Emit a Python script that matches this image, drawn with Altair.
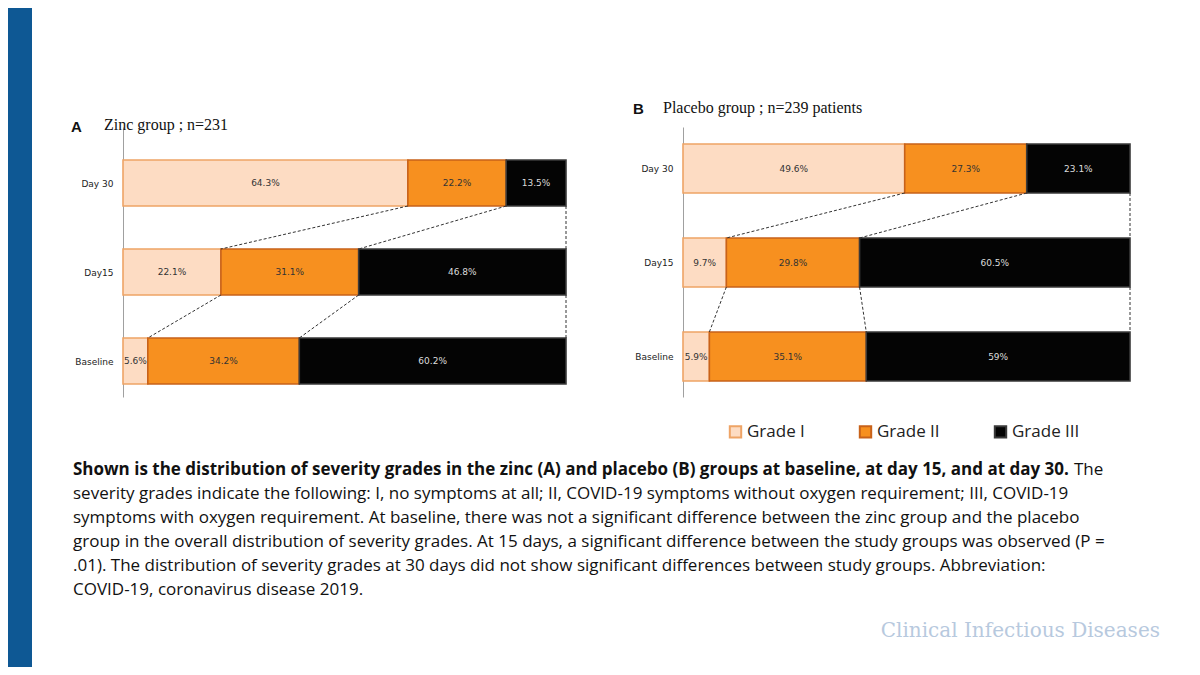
import json
import altair as alt
import pandas as pd

# ---------------- data ----------------
grades = ["Grade I", "Grade II", "Grade III"]
rows = ["Day 30", "Day15", "Baseline"]

zinc_grade1 = [64.3, 22.1, 5.6]
zinc_grade2 = [22.2, 31.1, 34.2]
zinc_grade3 = [13.5, 46.8, 60.2]

placebo_grade1 = [49.6, 9.7, 5.9]
placebo_grade2 = [27.3, 29.8, 35.1]
placebo_grade3 = [23.1, 60.5, 59.0]

fill_colors = ["#fddcc3", "#f7901f", "#040404"]
stroke_colors = ["#eea466", "#c8621a", "#3a3a3a"]

caption_bold = ("Shown is the distribution of severity grades in the zinc (A) and placebo (B) "
                "groups at baseline, at day 15, and at day 30.")
caption_first_tail = "The"
caption_lines = [
    "severity grades indicate the following: I, no symptoms at all; II, COVID-19 symptoms without oxygen requirement; III, COVID-19",
    "symptoms with oxygen requirement. At baseline, there was not a significant difference between the zinc group and the placebo",
    "group in the overall distribution of severity grades. At 15 days, a significant difference between the study groups was observed (P =",
    ".01). The distribution of severity grades at 30 days did not show significant differences between study groups. Abbreviation:",
    "COVID-19, coronavirus disease 2019.",
]
watermark = "Clinical Infectious Diseases"

BODY_FONT = "Open Sans"
LABEL_FONT = "DejaVu Sans"


def tables(g1, g2, g3, half):
    segs = []
    for i, row in enumerate(rows):
        start = 0.0
        for g, v in zip(grades, [g1[i], g2[i], g3[i]]):
            segs.append(dict(row=row, grade=g, x=start, x2=start + v, y=i - half,
                             y2=i + half, xc=start + v / 2, yc=i, label=f"{v:g}%"))
            start += v
    conns = []
    for i in range(len(rows) - 1):
        up = [g1[i], g1[i] + g2[i], g1[i] + g2[i] + g3[i]]
        lo = [g1[i + 1], g1[i + 1] + g2[i + 1], g1[i + 1] + g2[i + 1] + g3[i + 1]]
        for a, b in zip(up, lo):
            conns.append(dict(x=a, x2=b, y=i + half, y2=i + 1 - half))
    return pd.DataFrame(segs), pd.DataFrame(conns)


def panel(g1, g2, g3, width, height, step_px, bar_px, first_center_px,
          letter, title, letter_pos, title_pos, show_legend, extra=None):
    half = bar_px / step_px / 2
    top = -first_center_px / step_px
    bottom = (height - first_center_px) / step_px
    segs, conns = tables(g1, g2, g3, half)

    xs = alt.Scale(domain=[0, 100], nice=False, zero=True)
    ys = alt.Scale(domain=[top, bottom], reverse=True, nice=False, zero=False)
    yaxis = alt.Axis(values=[0, 1, 2], labelExpr=f"{json.dumps(rows)}[datum.value]",
                     title=None, ticks=False, grid=False, domainColor="#a0a0a0",
                     labelFont=LABEL_FONT, labelFontSize=9, labelColor="#222",
                     labelPadding=10)

    if show_legend:
        leg = alt.Legend(orient="none", legendX=44, legendY=296, direction="horizontal",
                         title=None, symbolType="square", symbolSize=130,
                         symbolStrokeWidth=2, labelFont=BODY_FONT, labelFontSize=17,
                         labelColor="#222", columnPadding=50, labelOffset=3)
    else:
        leg = None

    fill = alt.Fill("grade:N", scale=alt.Scale(domain=grades, range=fill_colors),
                    legend=leg, sort=grades)
    stroke = alt.Stroke("grade:N", scale=alt.Scale(domain=grades, range=stroke_colors),
                        legend=leg, sort=grades)

    bars = alt.Chart(segs).mark_bar(strokeWidth=1.6).encode(
        x=alt.X("x:Q", scale=xs, axis=None),
        x2="x2:Q",
        y=alt.Y("y:Q", scale=ys, axis=yaxis),
        y2="y2:Q",
        fill=fill,
        stroke=stroke,
    )
    labels = alt.Chart(segs).mark_text(font=LABEL_FONT, fontSize=9).encode(
        x=alt.X("xc:Q", scale=xs, axis=None),
        y=alt.Y("yc:Q", scale=ys, axis=yaxis),
        text="label:N",
        color=alt.condition(alt.datum.grade == "Grade III", alt.value("#dcdcdc"),
                            alt.value("#333333")),
    )
    lines = alt.Chart(conns).mark_rule(strokeDash=[3, 2], color="#333", strokeWidth=1).encode(
        x=alt.X("x:Q", scale=xs, axis=None),
        x2="x2:Q",
        y=alt.Y("y:Q", scale=ys, axis=yaxis),
        y2="y2:Q",
    )
    one = pd.DataFrame({"k": [0]})
    t_letter = alt.Chart(one).mark_text(text=letter, font="Liberation Sans", fontWeight="bold",
                                        fontSize=15, align="left", baseline="alphabetic",
                                        color="#111").encode(
        x=alt.value(letter_pos[0]), y=alt.value(letter_pos[1]))
    t_title = alt.Chart(one).mark_text(text=title, font="Liberation Serif", fontSize=16,
                                       align="left", baseline="alphabetic",
                                       color="#111").encode(
        x=alt.value(title_pos[0]), y=alt.value(title_pos[1]))
    layers = [bars, lines, labels, t_letter, t_title] + (extra or [])
    return alt.layer(*layers).properties(width=width, height=height)


one = pd.DataFrame({"k": [0]})
band = alt.Chart(one).mark_rect(color="#0e5894").encode(
    x=alt.value(-115), x2=alt.value(-91), y=alt.value(-119), y2=alt.value(540))
cap_bold = alt.Chart(one).mark_text(text=caption_bold, font=BODY_FONT, fontWeight="bold",
                                    fontSize=17, align="left", baseline="middle",
                                    color="#111").encode(
    x=alt.value(-50), y=alt.value(343))
cap_tail = alt.Chart(one).mark_text(text=caption_first_tail, font=BODY_FONT, fontSize=17,
                                    align="left", baseline="middle", color="#111").encode(
    x=alt.value(951), y=alt.value(343))
cap_rest = alt.Chart(one).mark_text(text=caption_lines, font=BODY_FONT, fontSize=17,
                                    lineHeight=24, align="left", baseline="middle",
                                    color="#111").encode(
    x=alt.value(-50), y=alt.value(367))
wm = alt.Chart(one).mark_text(text=watermark, font="DejaVu Serif", fontSize=20,
                              align="right", baseline="middle", color="#b7c9de").encode(
    x=alt.value(477), y=alt.value(504))

panel_a = panel(zinc_grade1, zinc_grade2, zinc_grade3, 443, 270, 89, 46, 56,
                "A", "Zinc group ; n=231", (-52, 5), (-19, 3), False,
                extra=[band, cap_bold, cap_tail, cap_rest])
panel_b = panel(placebo_grade1, placebo_grade2, placebo_grade3, 447, 270, 94, 49, 41.5,
                "B", "Placebo group ; n=239 patients", (-50, -13), (-20, -14), True,
                extra=[wm])

chart = alt.hconcat(panel_a, panel_b, spacing=117, bounds="flush").resolve_scale(
    fill="independent", stroke="independent"
).resolve_legend(fill="independent", stroke="independent").properties(
    padding=0, background="white"
).configure_view(stroke=None)

chart.save("out.html", embed_options={"renderer": "svg", "actions": False})
